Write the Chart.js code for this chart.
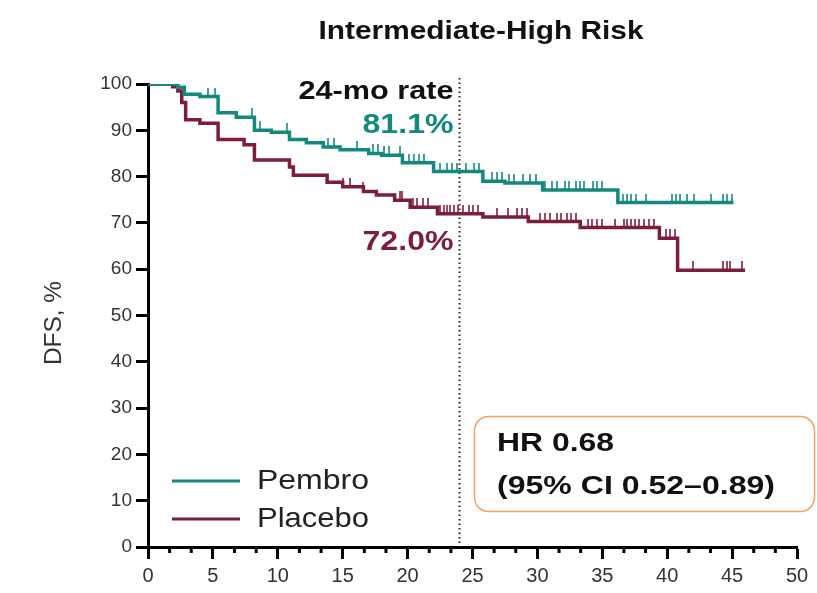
<!DOCTYPE html>
<html>
<head>
<meta charset="utf-8">
<script src="https://cdn.jsdelivr.net/npm/chart.js@4/dist/chart.umd.min.js"></script>
<style>
  html, body { margin: 0; padding: 0; background: #fff; }
  #chart { display: block; }
</style>
</head>
<body>
<canvas id="chart" width="817" height="593"></canvas>
<script>
// KM steps (months, DFS %)
var pembroTime = [0, 2.3, 2.8, 4.0, 5.4, 6.8, 8.2, 9.5, 10.9, 12.2, 13.5, 14.8, 17.0, 18.0, 19.6, 22.0, 25.8, 27.5, 30.4, 36.2, 45.1];
var pembroDFS = [100, 99.3, 97.8, 97.3, 93.8, 92.8, 90.0, 89.6, 88.0, 87.3, 86.4, 85.8, 85.0, 84.6, 83.0, 81.1, 79.0, 78.6, 77.1, 74.4, 74.4];
var placeboTime = [0, 1.9, 2.3, 2.6, 2.9, 4.0, 5.4, 7.4, 8.2, 10.9, 11.2, 13.8, 15.0, 16.6, 17.6, 19.0, 20.2, 22.3, 25.8, 29.3, 33.3, 39.4, 40.8, 46.0];
var placeboDFS = [100, 99.4, 98.5, 96.0, 92.3, 91.5, 88.0, 86.9, 83.6, 82.1, 80.3, 78.8, 77.8, 76.8, 76.0, 74.9, 73.4, 72.0, 71.3, 70.3, 69.0, 66.7, 59.8, 59.8];

// censoring times
var pembroCensor = [0.2, 4.6, 5.2, 8.0, 8.6, 10.7, 13.9, 14.3, 16.1, 17.3, 17.7, 18.2, 18.6, 19.4, 20.1, 20.5, 20.9, 21.3, 22.5, 23.0, 23.4, 23.8, 24.5, 25.1, 25.5, 26.5, 26.9, 27.3, 27.8, 28.2, 28.9, 29.4, 29.9, 30.6, 31.1, 31.5, 32.1, 32.4, 33.0, 33.3, 33.6, 34.3, 34.6, 35.0, 36.6, 36.9, 37.2, 37.6, 38.4, 40.4, 40.7, 41.0, 41.5, 42.1, 43.4, 44.3, 44.6, 45.0];
var placeboCensor = [1.8, 15.0, 15.6, 16.6, 19.4, 19.6, 20.4, 20.7, 21.2, 21.6, 22.5, 22.8, 23.0, 23.3, 23.6, 23.9, 24.3, 24.7, 25.0, 25.4, 26.9, 27.7, 28.4, 28.8, 29.2, 30.2, 30.6, 31.0, 31.5, 31.8, 32.3, 32.6, 33.0, 33.9, 34.2, 34.6, 35.0, 36.0, 36.7, 36.9, 37.2, 37.5, 37.8, 38.2, 38.6, 39.0, 39.9, 40.2, 40.6, 42.0, 44.3, 44.6, 44.8, 45.8];

var xTicks = [0, 5, 10, 15, 20, 25, 30, 35, 40, 45, 50];
var yTicks = [0, 10, 20, 30, 40, 50, 60, 70, 80, 90, 100];

var TEAL = '#12897c';
var MAROON = '#7c1d3f';

function steps(times, vals) {
  return times.map(function (t, i) { return { x: t, y: vals[i] }; });
}

function valueAt(times, vals, t) {
  var v = vals[0];
  for (var i = 0; i < times.length; i++) {
    if (times[i] <= t) v = vals[i];
  }
  return v;
}

function censorPoints(cens, times, vals) {
  return cens.map(function (t) { return { x: t, y: valueAt(times, vals, t) }; });
}

function tickMark(color) {
  var c = document.createElement('canvas');
  c.width = 2;
  c.height = 18;
  var g = c.getContext('2d');
  g.fillStyle = color;
  g.globalAlpha = 0.8;
  g.fillRect(0, 0, 2, 9);
  return c;
}

function fitText(ctx, str, x, y, font, color, align, width) {
  ctx.save();
  ctx.font = font;
  ctx.fillStyle = color;
  ctx.textBaseline = 'middle';
  var w = ctx.measureText(str).width;
  var sx = width ? width / w : 1;
  var dx = 0;
  if (align === 'right') dx = -w * sx;
  if (align === 'center') dx = -w * sx / 2;
  ctx.translate(x + dx, y);
  ctx.scale(sx, 1);
  ctx.textAlign = 'left';
  ctx.fillText(str, 0, 0);
  ctx.restore();
}

var decorPlugin = {
  id: 'decor',
  beforeDatasetsDraw: function (chart) {
    var ctx = chart.ctx;
    var xs = chart.scales.x;
    var ys = chart.scales.y;
    var x24 = xs.getPixelForValue(24);
    ctx.save();
    ctx.strokeStyle = '#222';
    ctx.lineWidth = 2;
    ctx.setLineDash([1.5, 3]);
    ctx.beginPath();
    ctx.moveTo(x24, 78);
    ctx.lineTo(x24, ys.getPixelForValue(0));
    ctx.stroke();
    ctx.restore();
  },
  afterDraw: function (chart) {
    var ctx = chart.ctx;
    var xs = chart.scales.x;
    var ys = chart.scales.y;
    var x24 = xs.getPixelForValue(24);
    var y0 = ys.getPixelForValue(0);

    // minor ticks on the x axis
    ctx.save();
    ctx.strokeStyle = '#000';
    ctx.lineWidth = 3;
    for (var k = 0; k <= 30; k++) {
      if (k % 3 === 0) continue;
      var px = xs.getPixelForValue(k * 5 / 3);
      ctx.beginPath();
      ctx.moveTo(px, y0);
      ctx.lineTo(px, y0 + 6);
      ctx.stroke();
    }
    ctx.restore();

    fitText(ctx, 'Intermediate-High Risk', 481, 32, 'bold 25px "Liberation Sans", Arial, sans-serif', '#111', 'center', 325);
    fitText(ctx, '24-mo rate', x24 - 6, 92, 'bold 25px "Liberation Sans", Arial, sans-serif', '#111', 'right', 155);
    fitText(ctx, '81.1%', x24 - 6, 126, 'bold 27px "Liberation Sans", Arial, sans-serif', TEAL, 'right', 91);
    fitText(ctx, '72.0%', x24 - 6, 243, 'bold 27px "Liberation Sans", Arial, sans-serif', MAROON, 'right', 91);

    // y axis title
    ctx.save();
    ctx.translate(54, 323);
    ctx.rotate(-Math.PI / 2);
    fitText(ctx, 'DFS, %', 0, 0, '24px "Liberation Sans", Arial, sans-serif', '#333', 'center', 84);
    ctx.restore();

    // legend
    var items = [['Pembro', TEAL, 481], ['Placebo', MAROON, 519]];
    items.forEach(function (it) {
      ctx.save();
      ctx.strokeStyle = it[1];
      ctx.lineWidth = 3;
      ctx.beginPath();
      ctx.moveTo(172, it[2]);
      ctx.lineTo(240, it[2]);
      ctx.stroke();
      ctx.restore();
      fitText(ctx, it[0], 257, it[2], '28px "Liberation Sans", Arial, sans-serif', '#222', 'left', 112);
    });

    // HR box
    ctx.save();
    ctx.strokeStyle = '#f4a261';
    ctx.lineWidth = 1.5;
    ctx.beginPath();
    ctx.roundRect(474.5, 416.5, 340, 95, 14);
    ctx.stroke();
    ctx.restore();
    fitText(ctx, 'HR 0.68', 497, 444, 'bold 25px "Liberation Sans", Arial, sans-serif', '#111', 'left', 117);
    fitText(ctx, '(95% CI 0.52\u20130.89)', 497, 487, 'bold 25px "Liberation Sans", Arial, sans-serif', '#111', 'left', 278);
  }
};

new Chart(document.getElementById('chart'), {
  type: 'scatter',
  data: {
    datasets: [
      {
        label: 'Pembro',
        type: 'line',
        data: steps(pembroTime, pembroDFS),
        borderColor: TEAL,
        borderWidth: 3.5,
        stepped: true,
        pointRadius: 0,
        fill: false,
      },
      {
        label: 'Placebo',
        type: 'line',
        data: steps(placeboTime, placeboDFS),
        borderColor: MAROON,
        borderWidth: 3.5,
        stepped: true,
        pointRadius: 0,
        fill: false,
      },
      {
        label: 'Pembro censored',
        data: censorPoints(pembroCensor, pembroTime, pembroDFS),
        pointStyle: tickMark(TEAL),
        pointRadius: 9,
      },
      {
        label: 'Placebo censored',
        data: censorPoints(placeboCensor, placeboTime, placeboDFS),
        pointStyle: tickMark(MAROON),
        pointRadius: 9,
      },
    ],
  },
  options: {
    responsive: false,
    animation: false,
    devicePixelRatio: 1,
    layout: { padding: { left: 0, right: 20, top: 84, bottom: 0 } },
    plugins: {
      legend: { display: false },
      tooltip: { enabled: false },
    },
    scales: {
      x: {
        type: 'linear',
        min: 0,
        max: 50,
        afterBuildTicks: function (s) { s.ticks = xTicks.map(function (v) { return { value: v }; }); },
        afterFit: function (s) { s.height = 46; },
        grid: { drawOnChartArea: false, drawTicks: true, tickLength: 12, tickWidth: 3, tickColor: '#000' },
        border: { display: true, color: '#000', width: 3 },
        ticks: { color: '#333', padding: 5, maxRotation: 0, font: { family: '"Liberation Sans", Arial, sans-serif', size: 20 } },
      },
      y: {
        type: 'linear',
        min: 0,
        max: 100,
        afterBuildTicks: function (s) { s.ticks = yTicks.map(function (v) { return { value: v }; }); },
        afterFit: function (s) { s.width = 148; },
        grid: { drawOnChartArea: false, drawTicks: true, tickLength: 12, tickWidth: 3, tickColor: '#000' },
        border: { display: true, color: '#000', width: 3 },
        ticks: { color: '#333', padding: 4, font: { family: '"Liberation Sans", Arial, sans-serif', size: 19 } },
      },
    },
  },
  plugins: [decorPlugin],
});
</script>
</body>
</html>
